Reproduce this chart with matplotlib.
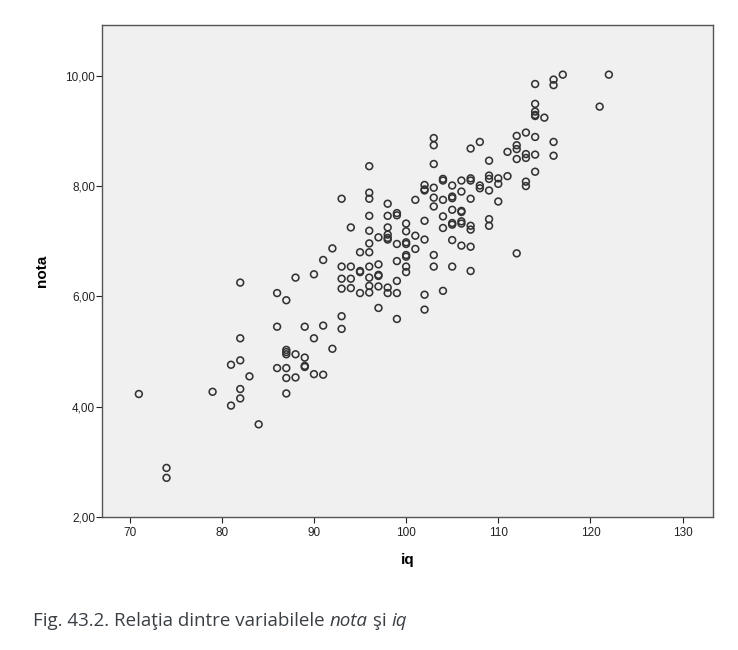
import matplotlib
matplotlib.use("Agg")
import matplotlib.pyplot as plt
from matplotlib.ticker import FuncFormatter

# iq (x) and nota (y)
iq = [71, 74, 74, 79, 81, 81, 82, 82, 82, 82, 82, 83, 84,
      86, 86, 86, 87, 87, 87, 87, 87, 87, 87, 88, 88, 88,
      89, 89, 89, 89, 90, 90, 90, 91, 91, 91, 92, 92,
      93, 93, 93, 93, 93, 93, 94, 94, 94, 94, 95, 95, 95, 95,
      96, 96, 96, 96, 96, 96, 96, 96, 96, 96, 96,
      97, 97, 97, 97, 97, 97,
      98, 98, 98, 98, 98, 98, 98, 98,
      99, 99, 99, 99, 99, 99, 99,
      100, 100, 100, 100, 100, 100, 100, 100,
      101, 101, 101,
      102, 102, 102, 102, 102, 102, 102,
      103, 103, 103, 103, 103, 103, 103, 103,
      104, 104, 104, 104, 104, 104,
      105, 105, 105, 105, 105, 105, 105, 105,
      106, 106, 106, 106, 106, 106, 106,
      107, 107, 107, 107, 107, 107, 107, 107,
      108, 108, 108,
      109, 109, 109, 109, 109, 109,
      110, 110, 110, 111, 111,
      112, 112, 112, 112, 112,
      113, 113, 113, 113, 113,
      114, 114, 114, 114, 114, 114, 114, 114,
      115, 116, 116, 116, 116, 117, 121, 122]
nota = [4.23, 2.89, 2.71, 4.27, 4.76, 4.02, 6.25, 5.24, 4.84, 4.32, 4.15, 4.55, 3.68,
        6.06, 5.45, 4.70, 5.93, 5.03, 4.99, 4.95, 4.70, 4.52, 4.24, 6.34, 4.95, 4.53,
        5.45, 4.89, 4.74, 4.72, 6.40, 5.24, 4.59, 6.66, 5.47, 4.58, 6.87, 5.05,
        7.77, 6.54, 6.32, 6.14, 5.64, 5.41, 7.25, 6.54, 6.32, 6.15, 6.80, 6.46, 6.44, 6.06,
        8.36, 7.88, 7.77, 7.46, 7.19, 6.96, 6.80, 6.54, 6.34, 6.19, 6.07,
        6.58, 6.39, 6.37, 7.07, 6.18, 5.79,
        7.68, 7.46, 7.25, 7.12, 7.06, 7.03, 6.16, 6.06,
        7.51, 7.47, 6.95, 6.64, 6.28, 6.06, 5.59,
        7.32, 7.18, 6.98, 6.95, 6.75, 6.72, 6.54, 6.44,
        7.75, 7.10, 6.86,
        8.02, 7.94, 7.92, 7.37, 7.03, 6.03, 5.76,
        8.87, 8.74, 8.40, 7.97, 7.79, 7.63, 6.75, 6.54,
        8.13, 8.10, 7.75, 7.45, 7.24, 6.10,
        8.01, 7.81, 7.78, 7.57, 7.33, 7.30, 7.02, 6.54,
        8.10, 7.90, 7.55, 7.53, 7.36, 7.32, 6.92,
        8.68, 8.14, 8.10, 7.77, 7.28, 7.21, 6.90, 6.46,
        8.80, 8.01, 7.96,
        8.46, 8.19, 8.13, 7.92, 7.40, 7.28,
        8.14, 8.04, 7.72, 8.62, 8.18,
        8.91, 8.74, 8.67, 8.49, 6.78,
        8.97, 8.58, 8.51, 8.08, 8.00,
        9.85, 9.49, 9.35, 9.29, 9.27, 8.89, 8.57, 8.26,
        9.24, 9.93, 9.83, 8.80, 8.55, 10.02, 9.44, 10.02]

x_ticks = [70, 80, 90, 100, 110, 120, 130]
y_ticks = [2, 4, 6, 8, 10]

plt.rcParams["font.family"] = ["Liberation Sans", "DejaVu Sans"]

fig = plt.figure(figsize=(7.38, 6.5), dpi=100)
ax = fig.add_axes([102 / 738, 1 - 517 / 650, (713 - 102) / 738, (517 - 25) / 650])
ax.set_facecolor("#f0f0f0")

ax.scatter(iq, nota, s=24, facecolors="none", edgecolors="#333333", linewidths=1.15)

ax.set_xlim(67, 133.3)
ax.set_ylim(2, 10.92)
ax.set_xticks(x_ticks)
ax.set_yticks(y_ticks)
ax.yaxis.set_major_formatter(FuncFormatter(lambda v, p: f"{v:.2f}".replace(".", ",")))
ax.tick_params(labelsize=8.5, colors="#222222", length=4, width=0.8, direction="out")
ax.tick_params(axis="y", pad=1)
ax.tick_params(axis="x", pad=3)

for sp in ax.spines.values():
    sp.set_color("#555555")
    sp.set_linewidth(1.0)

ax.set_xlabel("iq", fontsize=11, fontweight="bold", labelpad=10)
ax.set_ylabel("nota", fontsize=11, fontweight="bold", labelpad=12)

# caption with italic variable names, drawn piece by piece
cap_color = "#3a3f44"
cap_font = dict(fontsize=13.5, color=cap_color, family=["Open Sans", "DejaVu Sans"])
t = fig.text(33 / 738, 1 - 626 / 650, "Fig. 43.2. Relaţia dintre variabilele ", **cap_font)
for piece, style in [("nota", "italic"), (" şi ", "normal"), ("iq", "italic")]:
    t = ax.annotate(piece, xy=(1, 0), xycoords=t, va="bottom", ha="left",
                    style=style, annotation_clip=False, **cap_font)

fig.savefig("out.png", dpi=100)
